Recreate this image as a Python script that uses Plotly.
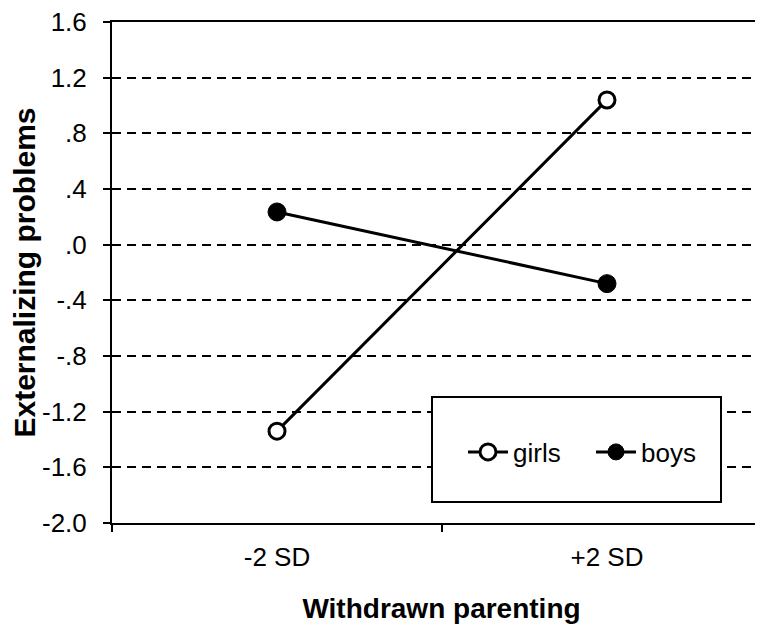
import plotly.graph_objects as go

categories = ["-2 SD", "+2 SD"]
girls = [-1.34, 1.04]
boys = [0.235, -0.28]
y_tickvals = [1.6, 1.2, 0.8, 0.4, 0.0, -0.4, -0.8, -1.2, -1.6, -2.0]
y_ticktext = ["1.6", "1.2", ".8", ".4", ".0", "-.4", "-.8", "-1.2", "-1.6", "-2.0"]

W, H = 763, 637
OFF = 8  # page body margin offset
ml, mt = 112 - OFF, 22 - OFF
plot_bottom = 523 - OFF
mb = H - plot_bottom
plot_w = W - ml
plot_h = plot_bottom - mt
font_family = "Liberation Sans, Arial, sans-serif"

fig = go.Figure()
fig.add_trace(go.Scatter(
    x=categories, y=girls, name="girls", mode="lines+markers",
    line=dict(color="black", width=3),
    marker=dict(symbol="circle", size=16, color="white", line=dict(color="black", width=3)),
))
fig.add_trace(go.Scatter(
    x=categories, y=boys, name="boys", mode="lines+markers",
    line=dict(color="black", width=3),
    marker=dict(symbol="circle", size=18, color="black", line=dict(color="black", width=1)),
))

# the reference's plot area runs past the right edge; 330px per category
x_right = -0.5 + plot_w / 330.0


def px_x(sx):
    return (sx - OFF - ml) / plot_w


def px_y(sy):
    return (plot_bottom - (sy - OFF)) / plot_h


fig.update_layout(
    width=W, height=H,
    margin=dict(l=ml, r=0, t=mt, b=mb, autoexpand=False),
    paper_bgcolor="white", plot_bgcolor="white",
    font=dict(family=font_family, size=26, color="black"),
    showlegend=True,
    legend=dict(
        orientation="h", x=px_x(463), y=px_y(452), xanchor="left", yanchor="middle",
        bgcolor="rgba(0,0,0,0)", borderwidth=0,
        font=dict(size=26), itemwidth=40, entrywidth=73,
    ),
    xaxis=dict(
        type="category", range=[-0.5, x_right], automargin=False,
        tickson="boundaries", ticks="outside", ticklen=7, tickwidth=2, tickcolor="black",
        showline=True, linecolor="black", linewidth=2, mirror=True,
        showgrid=False, zeroline=False,
        ticklabelstandoff=10,
        title=dict(text="<b>Withdrawn parenting</b>", font=dict(size=28), standoff=27),
    ),
    yaxis=dict(
        range=[-2.0, 1.6], tickvals=y_tickvals, ticktext=y_ticktext, automargin=False,
        ticks="outside", ticklen=7, tickwidth=2, tickcolor="black",
        showline=True, linecolor="black", linewidth=2,
        showgrid=True, gridcolor="black", gridwidth=2, griddash="9px,6px",
        zeroline=False, ticklabelstandoff=11, ticklabeloverflow="allow",
        title=dict(text="<b>Externalizing problems</b>", font=dict(size=30), standoff=14),
    ),
    shapes=[dict(
        type="rect", xref="paper", yref="paper",
        x0=px_x(432), x1=px_x(721), y0=px_y(502), y1=px_y(397),
        line=dict(color="black", width=2), fillcolor="white", layer="above",
    )],
)

fig.write_html("out.html")
